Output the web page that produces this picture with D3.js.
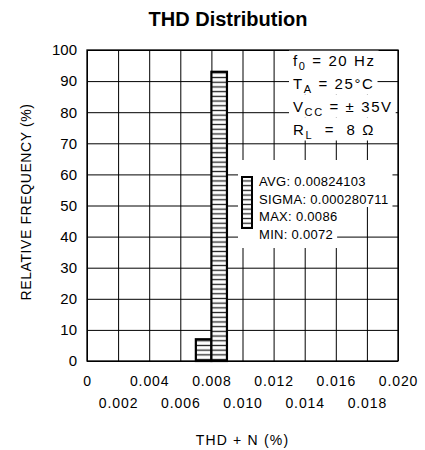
<!DOCTYPE html>
<html>
<head>
<meta charset="utf-8">
<script src="https://cdn.jsdelivr.net/npm/d3@7"></script>
<style>
  html, body { margin: 0; padding: 0; background: #fff; }
  svg { display: block; }
  text { font-family: "Liberation Sans", Arial, sans-serif; fill: #000; }
</style>
</head>
<body>
<div id="chart"></div>
<script>
// chart data
const binStart = [0.007, 0.008];
const binEnd = [0.008, 0.009];
const relFreq = [7, 93];

const xTicksUpper = [0, 0.004, 0.008, 0.012, 0.016, 0.020];
const xTicksLower = [0.002, 0.006, 0.010, 0.014, 0.018];
const xLabelsUpper = ["0", "0.004", "0.008", "0.012", "0.016", "0.020"];
const xLabelsLower = ["0.002", "0.006", "0.010", "0.014", "0.018"];
const yTicks = [0, 10, 20, 30, 40, 50, 60, 70, 80, 90, 100];

const conditions = [
    ["f", "0", " = 20 Hz"],
    ["T", "A", " = 25°C"],
    ["V", "CC", " = ± 35V"],
    ["R", "L", "  =  8 Ω"]
];
const stats = ["AVG: 0.00824103", "SIGMA: 0.000280711", "MAX: 0.0086", "MIN: 0.0072"];

const title = "THD Distribution";
const xTitle = "THD + N (%)";
const yTitle = "RELATIVE FREQUENCY (%)";

// layout
const width = 425, height = 450;
const margin = { top: 50, right: 27, bottom: 89, left: 87 };

const svg = d3.select("#chart")
    .append("svg")
    .attr("width", width)
    .attr("height", height);

const x = d3.scaleLinear()
    .domain([0, 0.02])
    .range([margin.left, width - margin.right]);

const y = d3.scaleLinear()
    .domain([0, 100])
    .range([height - margin.bottom, margin.top]);

const plotW = width - margin.left - margin.right;
const plotH = height - margin.top - margin.bottom;

// hatch pattern for bars
const defs = svg.append("defs");
const hatch = defs.append("pattern")
    .attr("id", "hatch")
    .attr("patternUnits", "userSpaceOnUse")
    .attr("width", 8)
    .attr("height", 4.7);
hatch.append("rect").attr("width", 8).attr("height", 4.7).attr("fill", "#fff");
hatch.append("line")
    .attr("x1", 0).attr("x2", 8)
    .attr("y1", 2.35).attr("y2", 2.35)
    .attr("stroke", "#222")
    .attr("stroke-width", 1.3);

// grid
svg.append("g")
    .attr("transform", `translate(0,${margin.top})`)
    .call(d3.axisBottom(x).tickValues(d3.merge([xTicksUpper, xTicksLower])).tickSize(plotH).tickFormat(""))
    .call(g => g.select(".domain").remove())
    .call(g => g.selectAll(".tick line").attr("stroke", "#000").attr("stroke-width", 1));

svg.append("g")
    .attr("transform", `translate(${margin.left},0)`)
    .call(d3.axisRight(y).tickValues(yTicks).tickSize(plotW).tickFormat(""))
    .call(g => g.select(".domain").remove())
    .call(g => g.selectAll(".tick line").attr("stroke", "#000").attr("stroke-width", 1));

// bars
svg.append("g")
    .selectAll("rect")
    .data(relFreq)
    .join("rect")
    .attr("x", (d, i) => x(binStart[i]))
    .attr("width", (d, i) => x(binEnd[i]) - x(binStart[i]))
    .attr("y", d => y(d))
    .attr("height", d => y(0) - y(d))
    .attr("fill", "url(#hatch)")
    .attr("stroke", "#000")
    .attr("stroke-width", 2.2);

// test conditions, each line on a white box that hides the grid
const condX = 293;
const condBase = [66, 88.5, 111.5, 134.5];
const condG = svg.append("g");
const condBoxes = condG.append("g");
const condText = condG.append("g")
    .selectAll("text")
    .data(conditions)
    .join("text")
    .attr("x", condX)
    .attr("y", (d, i) => condBase[i])
    .attr("font-size", 15)
    .attr("letter-spacing", 1.6)
    .attr("xml:space", "preserve");
condText.append("tspan").text(d => d[0]);
condText.append("tspan")
    .attr("font-size", 11)
    .attr("dy", 4)
    .text(d => d[1]);
condText.append("tspan")
    .attr("dy", -4)
    .text(d => d[2]);

condText.each(function (d, i) {
    const b = this.getBBox();
    condBoxes.append("rect")
        .attr("x", b.x - 4)
        .attr("width", b.width + 7)
        .attr("y", condBase[i] - 17)
        .attr("height", 23)
        .attr("fill", "#fff");
});

// statistics legend
const statX = 259;
const statBase = [185.7, 203.5, 221.3, 239.1];
const statG = svg.append("g");
const statBoxes = statG.append("g");
const statText = statG.append("g")
    .selectAll("text")
    .data(stats)
    .join("text")
    .attr("x", statX)
    .attr("y", (d, i) => statBase[i])
    .attr("font-size", 13)
    .attr("letter-spacing", 0.3)
    .text(d => d);

// mask: one block behind AVG/SIGMA, then one strip per remaining line
const boxLeft = 238;
const rowEdges = [160, 207, 227, 248];
const rights = [];
statText.each(function () {
    const b = this.getBBox();
    rights.push(b.x + b.width + 4);
});
const maskRight = [d3.max(rights.slice(0, 2)), rights[2], rights[3]];
statBoxes.selectAll("rect")
    .data(maskRight)
    .join("rect")
    .attr("x", boxLeft)
    .attr("width", d => d - boxLeft)
    .attr("y", (d, i) => rowEdges[i])
    .attr("height", (d, i) => rowEdges[i + 1] - rowEdges[i])
    .attr("fill", "#fff");

statG.append("rect")
    .attr("x", 242)
    .attr("y", 177)
    .attr("width", 10)
    .attr("height", 51)
    .attr("fill", "url(#hatch)")
    .attr("stroke", "#000")
    .attr("stroke-width", 2);

// plot border
svg.append("rect")
    .attr("x", margin.left)
    .attr("y", margin.top)
    .attr("width", plotW)
    .attr("height", plotH)
    .attr("fill", "none")
    .attr("stroke", "#000")
    .attr("stroke-width", 1.3);

// y tick labels
svg.append("g")
    .attr("transform", `translate(${margin.left - 10},0)`)
    .call(d3.axisLeft(y).tickValues(yTicks).tickSize(0).tickPadding(0))
    .call(g => g.select(".domain").remove())
    .call(g => g.selectAll("text")
        .attr("font-size", 15)
        .attr("font-family", "'Liberation Sans', Arial, sans-serif")
        .attr("fill", "#000"));

// x tick labels, two staggered rows
svg.append("g")
    .attr("transform", `translate(0,${height - margin.bottom + 15})`)
    .call(d3.axisBottom(x).tickValues(xTicksUpper).tickSize(0).tickPadding(0)
        .tickFormat((d, i) => xLabelsUpper[i]))
    .call(g => g.select(".domain").remove())
    .call(g => g.selectAll("text")
        .attr("font-size", 14)
        .attr("letter-spacing", 0.9)
        .attr("font-family", "'Liberation Sans', Arial, sans-serif")
        .attr("fill", "#000"));

svg.append("g")
    .attr("transform", `translate(0,${height - margin.bottom + 37})`)
    .call(d3.axisBottom(x).tickValues(xTicksLower).tickSize(0).tickPadding(0)
        .tickFormat((d, i) => xLabelsLower[i]))
    .call(g => g.select(".domain").remove())
    .call(g => g.selectAll("text")
        .attr("font-size", 14)
        .attr("letter-spacing", 0.9)
        .attr("font-family", "'Liberation Sans', Arial, sans-serif")
        .attr("fill", "#000"));

// axis titles
svg.append("text")
    .attr("x", (margin.left + width - margin.right) / 2)
    .attr("y", 445)
    .attr("text-anchor", "middle")
    .attr("font-size", 14)
    .attr("letter-spacing", 1.2)
    .attr("xml:space", "preserve")
    .text(xTitle);

svg.append("text")
    .attr("transform", `translate(31,202) rotate(-90)`)
    .attr("text-anchor", "middle")
    .attr("font-size", 14)
    .attr("letter-spacing", 0.6)
    .text(yTitle);

// chart title
svg.append("text")
    .attr("x", 228)
    .attr("y", 26)
    .attr("text-anchor", "middle")
    .attr("font-size", 20)
    .attr("font-weight", "bold")
    .text(title);
</script>
</body>
</html>
